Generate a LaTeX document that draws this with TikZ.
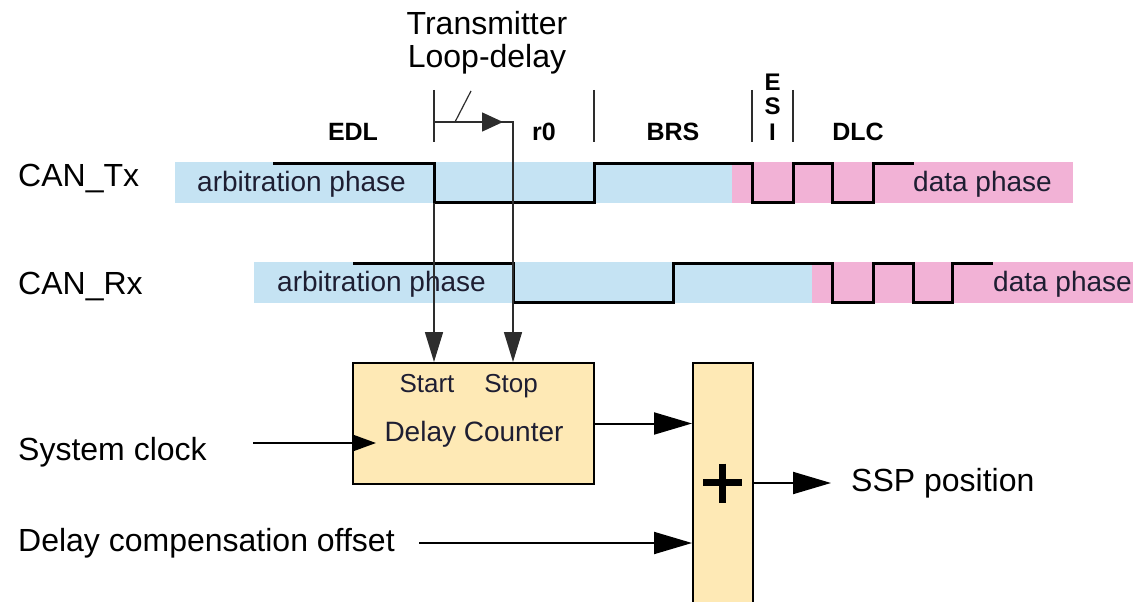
\documentclass[tikz,border=0pt]{standalone}
\usepackage{fontspec}
\setmainfont{Liberation Sans}
\usetikzlibrary{arrows.meta,calc}
\definecolor{arbblue}{RGB}{197,227,243}
\definecolor{datapink}{RGB}{242,178,214}
\definecolor{boxfill}{RGB}{254,233,181}
\definecolor{thinline}{RGB}{45,45,45}
\definecolor{phasetext}{RGB}{30,30,50}
\tikzset{
  biglabel/.style={anchor=base west,inner sep=0pt,font=\fontsize{32}{38}\selectfont},
  phaselabel/.style={anchor=base west,inner sep=0pt,text=phasetext,font=\fontsize{28}{33}\selectfont},
  fieldlabel/.style={anchor=base,inner sep=0pt,font=\bfseries\fontsize{25}{30}\selectfont},
  esilabel/.style={anchor=base,inner sep=0pt,font=\bfseries\fontsize{24}{28}\selectfont},
  signal/.style={line width=3pt,black,line join=miter},
  tick/.style={line width=1.5pt,thinline},
  thinarrow/.style={line width=1.5pt,thinline,-{Triangle[length=30pt,width=18pt]}},
  bigarrow/.style={line width=2pt,black,-{Triangle[length=38pt,width=22pt]}},
  blockbox/.style={draw=black,line width=2pt,fill=boxfill,inner sep=0pt},
  boxtext/.style={anchor=base,inner sep=0pt,text=phasetext},
}
\begin{document}
\begin{tikzpicture}[x=1pt,y=-1pt]
\useasboundingbox (0,0) rectangle (1133,602);
% bands
\fill[arbblue] (175,162) rectangle (732,203);
\fill[datapink] (732,162) rectangle (1073,203);
\fill[arbblue] (254,262) rectangle (812,303);
\fill[datapink] (812,262) rectangle (1133,303);
% labels
\node[biglabel] (tx) at (18,186) {CAN\_Tx};
\node[biglabel] (rx) at (18,294) {CAN\_Rx};
\node[phaselabel] (txarb) at (197,191) {arbitration phase};
\node[phaselabel] (txdata) at (913,191) {data phase};
\node[phaselabel] (rxarb) at (277,291) {arbitration phase};
\node[phaselabel] (rxdata) at (993,291) {data phase};
\node[anchor=base,inner sep=0pt,font=\fontsize{32}{38}\selectfont] (tr) at (487,35) {Transmitter};
\node[anchor=base,inner sep=0pt,font=\fontsize{32}{38}\selectfont] (ld) at (487,67) {Loop-delay};
\node[fieldlabel] (edl) at (353,140) {EDL};
\node[fieldlabel] (r0) at (544,140) {r0};
\node[fieldlabel] (brs) at (673,140) {BRS};
\node[fieldlabel] (dlc) at (858,140) {DLC};
\node[esilabel] (esie) at (772.5,90) {E};
\node[esilabel] (esis) at (772.5,114) {S};
\node[esilabel] (esii) at (772.5,140) {I};
% ticks
\draw[tick] (434,90) -- (434,142);
\draw[tick] (594,90) -- (594,142);
\draw[tick] (752,90) -- (752,142);
\draw[tick] (793,90) -- (793,142);
% signals
\draw[signal] (273,163.5) -- (434,163.5) -- (434,202.5) -- (594,202.5) -- (594,163.5) -- (752,163.5) -- (752,202.5) -- (793,202.5) -- (793,163.5) -- (832,163.5) -- (832,202.5) -- (873,202.5) -- (873,163.5) -- (914,163.5);
\draw[signal] (353,263.5) -- (513,263.5) -- (513,302.5) -- (673,302.5) -- (673,263.5) -- (832,263.5) -- (832,302.5) -- (873,302.5) -- (873,263.5) -- (913,263.5) -- (913,302.5) -- (952,302.5) -- (952,263.5) -- (993,263.5);
% blocks
\node[blockbox,minimum width=241pt,minimum height=121pt] (dc) at (473.5,423.5) {};
\node[blockbox,minimum width=60pt,minimum height=243pt] (add) at (723,484.5) {};
\node[boxtext,font=\fontsize{26}{30}\selectfont] (start) at (427,392) {Start};
\node[boxtext,font=\fontsize{26}{30}\selectfont] (stop) at (511,392) {Stop};
\node[boxtext,font=\fontsize{28}{33}\selectfont] (dctext) at (474,441) {Delay Counter};
\draw[line width=7pt,black] (703,482.5) -- (742,482.5) (722.5,463.5) -- (722.5,502.5);
% loop delay
\coordinate (ldstart) at (434,122);
\coordinate (ldtip) at (503,122);
\coordinate (ldend) at (513,122);
\draw[line width=1.2pt,thinline] (455,122) -- (471,91);
\draw[line width=1.5pt,thinline,-{Triangle[length=21pt,width=19pt]}] (ldstart) -- (ldtip);
\draw[thinarrow] (ldstart) -- (ldend) -- (ldend |- dc.north);
\coordinate (txfall) at (434,203);
\draw[thinarrow] (txfall) -- (txfall |- dc.north);
% inputs
\node[biglabel] (clklabel) at (18,460) {System clock};
\coordinate (clk) at (253,443);
\draw[line width=2pt,black,-{Triangle[length=24pt,width=17pt]}] (clk) -- ($(clk -| dc.west)+(24,0)$);
\node[biglabel] (offlabel) at (18,551) {Delay compensation offset};
\coordinate (offs) at (419,543);
\draw[bigarrow] (offs) -- (offs -| add.west);
\draw[bigarrow] (dc.east) -- (dc.east -| add.west);
\node[biglabel] (ssp) at (851,491) {SSP position};
\coordinate (sspin) at (831,483);
\draw[bigarrow] (add.east |- sspin) -- (sspin);
\end{tikzpicture}
\end{document}
